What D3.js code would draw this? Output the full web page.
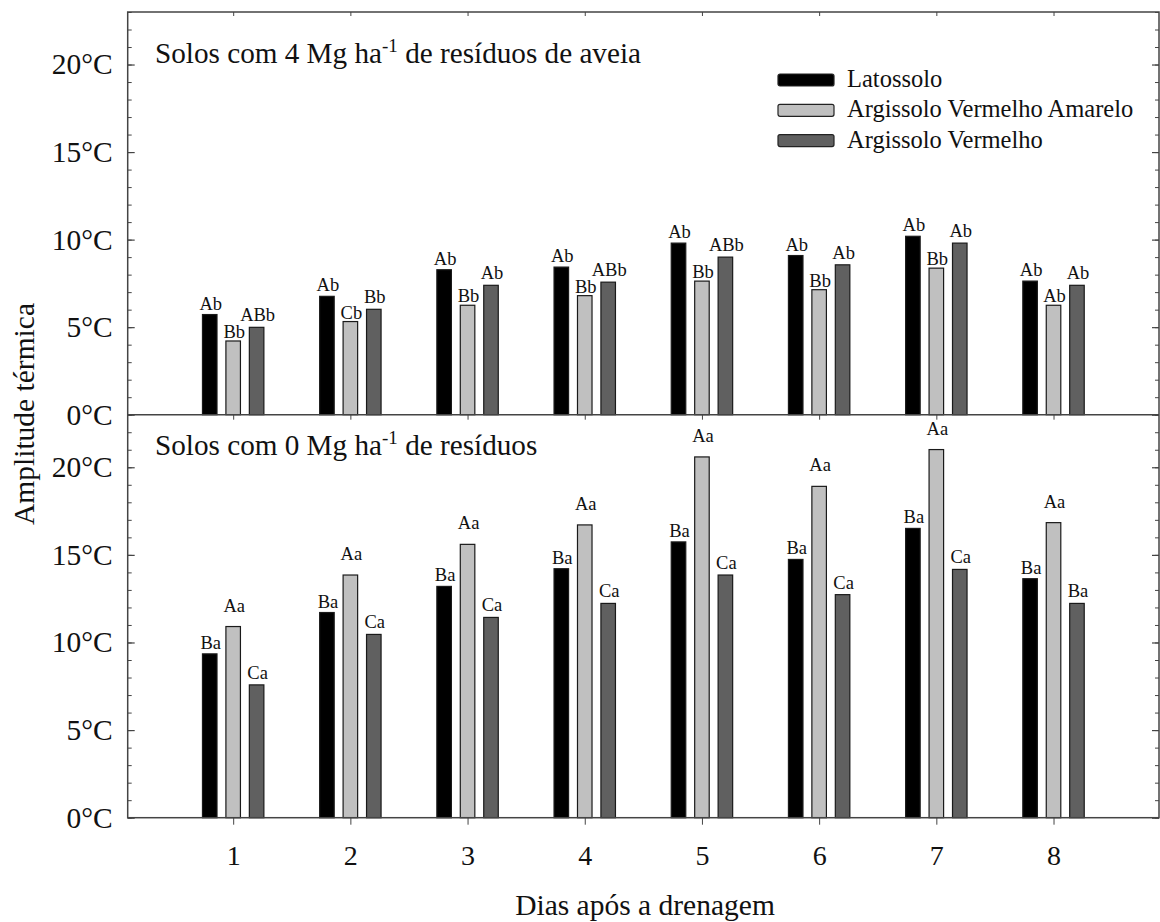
<!DOCTYPE html>
<html>
<head>
<meta charset="utf-8">
<script src="https://cdn.jsdelivr.net/npm/d3@7"></script>
<style>
    body { margin: 0; background: #fff; }
    text { font-family: "Liberation Serif", "Times New Roman", serif; fill: #111; }
</style>
</head>
<body>
<div id="chart"></div>
<script>
// days after drainage
const days = [1, 2, 3, 4, 5, 6, 7, 8];
const seriesNames = ["Latossolo", "Argissolo Vermelho Amarelo", "Argissolo Vermelho"];
const yTicks = [0, 5, 10, 15, 20];

// 4 Mg ha-1 oat residue
const lat4 = [5.72, 6.76, 8.28, 8.43, 9.80, 9.09, 10.19, 7.63];
const ava4 = [4.21, 5.32, 6.25, 6.80, 7.63, 7.14, 8.37, 6.25];
const av4 = [4.99, 6.02, 7.39, 7.57, 9.00, 8.56, 9.80, 7.39];
const lat4Letters = ["Ab", "Ab", "Ab", "Ab", "Ab", "Ab", "Ab", "Ab"];
const ava4Letters = ["Bb", "Cb", "Bb", "Bb", "Bb", "Bb", "Bb", "Ab"];
const av4Letters = ["ABb", "Bb", "Ab", "ABb", "ABb", "Ab", "Ab", "Ab"];

// 0 Mg ha-1 residue
const lat0 = [9.35, 11.71, 13.20, 14.21, 15.74, 14.74, 16.51, 13.64];
const ava0 = [10.91, 13.85, 15.60, 16.71, 20.59, 18.91, 21.01, 16.84];
const av0 = [7.58, 10.46, 11.43, 12.23, 13.85, 12.73, 14.17, 12.23];
const lat0Letters = ["Ba", "Ba", "Ba", "Ba", "Ba", "Ba", "Ba", "Ba"];
const ava0Letters = ["Aa", "Aa", "Aa", "Aa", "Aa", "Aa", "Aa", "Aa"];
const av0Letters = ["Ca", "Ca", "Ca", "Ca", "Ca", "Ca", "Ca", "Ba"];

const colors = ["#000000", "#c0c0c0", "#606060"];

const width = 1160, height = 922;
const frame = {left: 127.7, right: 1159, top: 12, mid: 414.7, bottom: 817.7};

const svg = d3.select("#chart").append("svg")
    .attr("width", width)
    .attr("height", height);

svg.append("rect").attr("width", width).attr("height", height).attr("fill", "#fff");

const x = d3.scaleLinear().domain([0.1, 8.9]).range([frame.left, frame.right]);
const offsets = [-0.2, 0, 0.2];
const barW = x(0.124) - x(0);

function drawPanel(y, series, letters, labelGap, title, y0) {
    let g = svg.append("g");

    // minor ticks, left and right
    g.append("g").attr("transform", `translate(${frame.left},0)`)
        .call(d3.axisLeft(y).tickValues(d3.range(0, 24)).tickSize(-4).tickFormat(""))
        .call(a => a.select(".domain").remove())
        .selectAll("line").attr("stroke", "#444");
    g.append("g").attr("transform", `translate(${frame.right},0)`)
        .call(d3.axisRight(y).tickValues(d3.range(0, 24)).tickSize(-4).tickFormat(""))
        .call(a => a.select(".domain").remove())
        .selectAll("line").attr("stroke", "#444");

    // major ticks with labels
    let ay = g.append("g").attr("transform", `translate(${frame.left},0)`)
        .call(d3.axisLeft(y).tickValues(yTicks).tickSize(-7).tickPadding(15).tickFormat(d => d + "°C"));
    ay.select(".domain").remove();
    ay.selectAll("line").attr("stroke", "#444").attr("stroke-width", 1.2);
    ay.selectAll("text").attr("font-size", 29.5).attr("fill", "#111");
    g.append("g").attr("transform", `translate(${frame.right},0)`)
        .call(d3.axisRight(y).tickValues(yTicks).tickSize(-7).tickFormat(""))
        .call(a => a.select(".domain").remove())
        .selectAll("line").attr("stroke", "#444").attr("stroke-width", 1.2);

    // bars
    series.forEach((vals, s) => {
        g.selectAll(".bar" + s)
            .data(vals)
            .enter()
            .append("rect")
            .attr("x", (d, i) => x(days[i] + offsets[s]) - barW / 2)
            .attr("y", d => y(d))
            .attr("width", barW)
            .attr("height", d => y(0) - y(d))
            .attr("fill", colors[s])
            .attr("stroke", "#1a1a1a")
            .attr("stroke-width", 1.2);

        g.selectAll(".lab" + s)
            .data(vals)
            .enter()
            .append("text")
            .attr("x", (d, i) => x(days[i] + offsets[s]) + 1)
            .attr("y", d => y(d) - labelGap[s])
            .attr("text-anchor", "middle")
            .attr("font-size", 18.5)
            .text((d, i) => letters[s][i]);
    });

    // panel title with superscript
    let t = g.append("text")
        .attr("x", 155)
        .attr("y", y0)
        .attr("font-size", 29.2);
    t.append("tspan").text(title[0]);
    t.append("tspan").attr("dy", -11).attr("font-size", 19).text("-1");
    t.append("tspan").attr("dy", 11).text(title[1]);
}

const yTop = d3.scaleLinear().domain([0, 23]).range([frame.mid, frame.top]);
const yBot = d3.scaleLinear().domain([0, 23]).range([frame.bottom, frame.mid]);

drawPanel(yTop, [lat4, ava4, av4], [lat4Letters, ava4Letters, av4Letters], [5, 3, 6],
    ["Solos com 4 Mg ha", " de resíduos de aveia"], 63);
drawPanel(yBot, [lat0, ava0, av0], [lat0Letters, ava0Letters, av0Letters], [5, 15, 6],
    ["Solos com 0 Mg ha", " de resíduos"], 455);

// x ticks: top frame, middle line, bottom axis
svg.append("g").attr("transform", `translate(0,${frame.top})`)
    .call(d3.axisTop(x).tickValues(days).tickSize(-4).tickFormat(""))
    .call(a => a.select(".domain").remove())
    .selectAll("line").attr("stroke", "#444");
svg.append("g").attr("transform", `translate(0,${frame.mid})`)
    .call(d3.axisBottom(x).tickValues(days).tickSize(5).tickFormat(""))
    .call(a => a.select(".domain").remove())
    .selectAll("line").attr("stroke", "#444");
let ax = svg.append("g").attr("transform", `translate(0,${frame.bottom})`)
    .call(d3.axisBottom(x).tickValues(days).tickSize(7).tickPadding(20));
ax.select(".domain").remove();
ax.selectAll("line").attr("stroke", "#444");
ax.selectAll("text").attr("font-size", 28).attr("fill", "#111");

// frame
svg.append("rect")
    .attr("x", frame.left).attr("y", frame.top)
    .attr("width", frame.right - frame.left).attr("height", frame.bottom - frame.top)
    .attr("fill", "none").attr("stroke", "#444").attr("stroke-width", 1.5);
svg.append("line")
    .attr("x1", frame.left).attr("x2", frame.right).attr("y1", frame.mid).attr("y2", frame.mid)
    .attr("stroke", "#444").attr("stroke-width", 1.5);

// axis titles
svg.append("text")
    .attr("transform", "translate(34,414) rotate(-90)")
    .attr("text-anchor", "middle")
    .attr("font-size", 29.5)
    .text("Amplitude térmica");
svg.append("text")
    .attr("x", 645).attr("y", 915)
    .attr("text-anchor", "middle")
    .attr("font-size", 29.5)
    .text("Dias após a drenagem");

// legend
let legend = svg.append("g").attr("transform", "translate(778,74)");
seriesNames.forEach((name, i) => {
    legend.append("rect")
        .attr("x", 0).attr("y", i * 30.3)
        .attr("width", 56).attr("height", 12).attr("rx", 2)
        .attr("fill", colors[i]).attr("stroke", "#222").attr("stroke-width", 1.2);
    legend.append("text")
        .attr("x", 69).attr("y", i * 30.3 + 13)
        .attr("font-size", 24.5)
        .text(name);
});
</script>
</body>
</html>
